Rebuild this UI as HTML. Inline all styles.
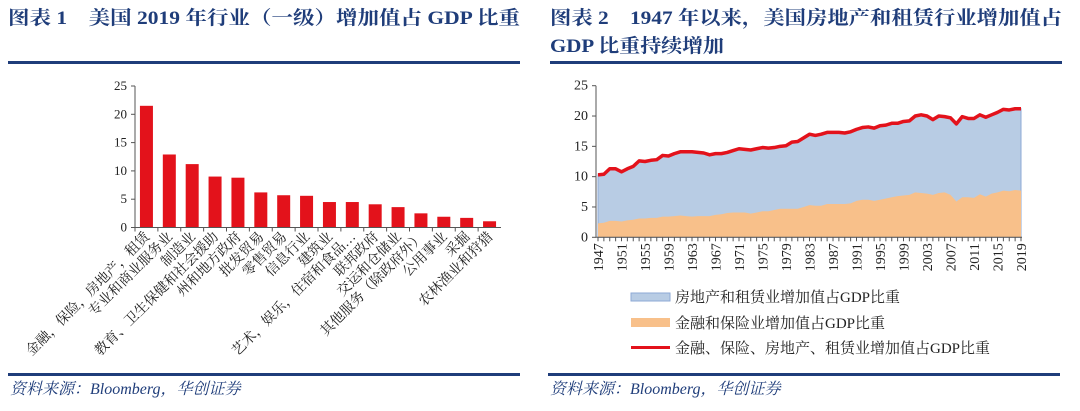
<!DOCTYPE html>
<html><head><meta charset="utf-8"><style>
body{margin:0;background:#fff;width:1080px;height:411px;overflow:hidden}
svg{display:block}
.t{font-family:"Liberation Serif","Noto Serif CJK SC",serif;font-weight:bold;fill:#1f3d7a;font-size:19px}
.ax{font-family:"Liberation Serif","Noto Serif CJK SC",serif;font-size:13px;fill:#222}
.lg{font-family:"Liberation Serif","Noto Serif CJK SC",serif;font-size:15px;fill:#222}
.src{font-family:"Liberation Serif","Noto Serif CJK SC",serif;font-style:italic;font-size:16px;fill:#1f3d7a}
</style></head><body>
<svg id="s" width="1080" height="411">
<text class="t" x="8" y="24" textLength="512" lengthAdjust="spacingAndGlyphs">图表 1　美国 2019 年行业（一级）增加值占 GDP 比重</text>
<text class="t" x="550" y="24" textLength="512" lengthAdjust="spacingAndGlyphs">图表 2　1947 年以来，美国房地产和租赁行业增加值占</text>
<text class="t" x="550" y="52" textLength="174" lengthAdjust="spacingAndGlyphs">GDP 比重持续增加</text>
<rect x="8" y="61" width="512" height="3" fill="#1f3d7a"/>
<rect x="550" y="61" width="512" height="3" fill="#1f3d7a"/>
<rect x="8" y="373" width="512" height="3" fill="#1f3d7a"/>
<rect x="548" y="373" width="512" height="3" fill="#1f3d7a"/>
<text class="src" x="10" y="394">资料来源：Bloomberg，华创证券</text>
<text class="src" x="550" y="394">资料来源：Bloomberg，华创证券</text>
<g id="c1"></g><g id="c2"></g>
<g>
<rect x="631" y="293" width="39" height="8" fill="#b8cce4" stroke="#8eaad6"/>
<text class="lg" x="675" y="302">房地产和租赁业增加值占GDP比重</text>
<rect x="631" y="318" width="39" height="9" fill="#f8c08a"/>
<text class="lg" x="675" y="328">金融和保险业增加值占GDP比重</text>
<rect x="631" y="346" width="39" height="3" fill="#e3121b"/>
<text class="lg" x="675" y="353">金融、保险、房地产、租赁业增加值占GDP比重</text>
</g>
</svg>
<script>
const cats1=["金融，保险，房地产，租赁","专业和商业服务业","制造业","教育、卫生保健和社会援助","州和地方政府","批发贸易","零售贸易","信息行业","建筑业","艺术，娱乐，住宿和食品…","联邦政府","交运和仓储业","其他服务（除政府外）","公用事业","采掘","农林渔业和狩猎"];
const vals1=[21.5,12.9,11.2,9.0,8.8,6.2,5.7,5.6,4.5,4.5,4.1,3.6,2.5,1.9,1.7,1.1];
const ticks1=[0,5,10,15,20,25];
const years=[];for(let y=1947;y<=2019;y++)years.push(y);
const total=[10.3,10.4,11.3,11.3,10.8,11.3,11.7,12.6,12.5,12.7,12.8,13.5,13.4,13.8,14.1,14.1,14.1,14.0,13.9,13.6,13.8,13.8,14.0,14.3,14.6,14.5,14.4,14.6,14.8,14.7,14.8,15.0,15.1,15.7,15.8,16.4,17.0,16.8,17.0,17.3,17.3,17.3,17.2,17.4,17.8,18.1,18.2,18.0,18.4,18.5,18.8,18.8,19.1,19.2,20.0,20.2,20.0,19.4,20.0,19.9,19.7,18.7,19.9,19.6,19.6,20.2,19.8,20.2,20.6,21.1,21.0,21.2,21.2];
const finance=[2.3,2.4,2.7,2.7,2.6,2.8,2.9,3.1,3.1,3.2,3.2,3.4,3.4,3.5,3.6,3.5,3.4,3.5,3.5,3.5,3.7,3.8,4.0,4.1,4.1,4.1,3.9,4.1,4.3,4.3,4.5,4.7,4.7,4.7,4.7,5.0,5.3,5.2,5.2,5.5,5.5,5.5,5.5,5.6,6.0,6.2,6.2,6.0,6.2,6.4,6.6,6.8,6.9,7.0,7.4,7.3,7.2,7.0,7.3,7.4,7.0,5.9,6.6,6.6,6.5,7.1,6.7,7.2,7.4,7.7,7.6,7.8,7.7];
const ticks2=[0,5,10,15,20,25];
const NS="http://www.w3.org/2000/svg";
function mk(p,tag,a){const e=document.createElementNS(NS,tag);for(const k in a)e.setAttribute(k,a[k]);p.appendChild(e);return e;}
// chart 1
const g1=document.getElementById('c1');
const cx0=135,cx1=501,cy0=227.5,cyt=86;
const ys1=v=>cy0-(v/25)*(cy0-cyt);
const bw=(cx1-cx0)/cats1.length;
const xs1=i=>cx0+bw*(i+0.5);
ticks1.forEach(t=>{
 const l=mk(g1,'line',{x1:cx0-4,x2:cx0,y1:ys1(t),y2:ys1(t),stroke:'#555'});
 
 
 const tx=mk(g1,'text',{x:cx0-8,y:ys1(t)+4,'text-anchor':'end',class:'ax'});tx.textContent=t;
 
 
});
vals1.forEach((v,i)=>{
 const r=mk(g1,'rect',{x:xs1(i)-6.5,y:ys1(v),width:13,height:cy0-ys1(v),fill:'#e3121b'});
 
 
 const tk=mk(g1,'line',{x1:cx0+bw*i,x2:cx0+bw*i,y1:cy0,y2:cy0+4,stroke:'#555'});
 
 
 const tx=mk(g1,'text',{x:0,y:0,'text-anchor':'end',class:'ax',transform:`translate(${xs1(i)+4},${cy0+10}) rotate(-45)`});
 tx.style.fontSize='14px';tx.textContent=cats1[i];
 
 
});
const a1=mk(g1,'path',{d:`M${cx0} ${cyt}V${cy0}H${cx1}`,stroke:'#555',fill:'none'});


// chart 2
const g2=document.getElementById('c2');
const X0=596,X1=1022,Y0=237.3,YT=85.7,Xa=598,Xb=1021;
const xs2=y=>Xa+(y-1947)/(2019-1947)*(Xb-Xa);
const ys2=v=>Y0-(v/25)*(Y0-YT);
let topPath='',finPath='';
years.forEach((y,i)=>{topPath+=(i?'L':'M')+xs2(y)+' '+ys2(total[i]);finPath+=(i?'L':'M')+xs2(y)+' '+ys2(finance[i]);});
const ar=mk(g2,'path',{d:topPath+`L${xs2(2019)} ${ys2(0)}L${xs2(1947)} ${ys2(0)}Z`,fill:'#b8cce4',stroke:'#8eaad6'});


const af=mk(g2,'path',{d:finPath+`L${xs2(2019)} ${ys2(0)}L${xs2(1947)} ${ys2(0)}Z`,fill:'#f8c08a'});


const ln=mk(g2,'path',{d:topPath,fill:'none',stroke:'#e3121b','stroke-width':3.5,'stroke-linejoin':'round'});


ticks2.forEach(t=>{
 const l=mk(g2,'line',{x1:X0-4,x2:X0,y1:ys2(t),y2:ys2(t),stroke:'#555'});
 
 
 const tx=mk(g2,'text',{x:X0-8,y:ys2(t)+4,'text-anchor':'end',class:'ax'});tx.style.fontSize='14px';tx.textContent=t;
 
 
});
years.forEach((y,i)=>{
 const tk=mk(g2,'line',{x1:xs2(y),x2:xs2(y),y1:Y0,y2:Y0+4,stroke:'#555'});
 
 
 if((y-1947)%4===0){
  const tx=mk(g2,'text',{x:0,y:0,'text-anchor':'end',class:'ax',transform:`translate(${xs2(y)+5},${Y0+6}) rotate(-90)`});
  tx.style.fontSize='14px';tx.textContent=y;
  
  
 }
});
const a2=mk(g2,'path',{d:`M${X0} ${YT}V${Y0}H${X1}`,stroke:'#555',fill:'none'});


</script>
</body></html>
